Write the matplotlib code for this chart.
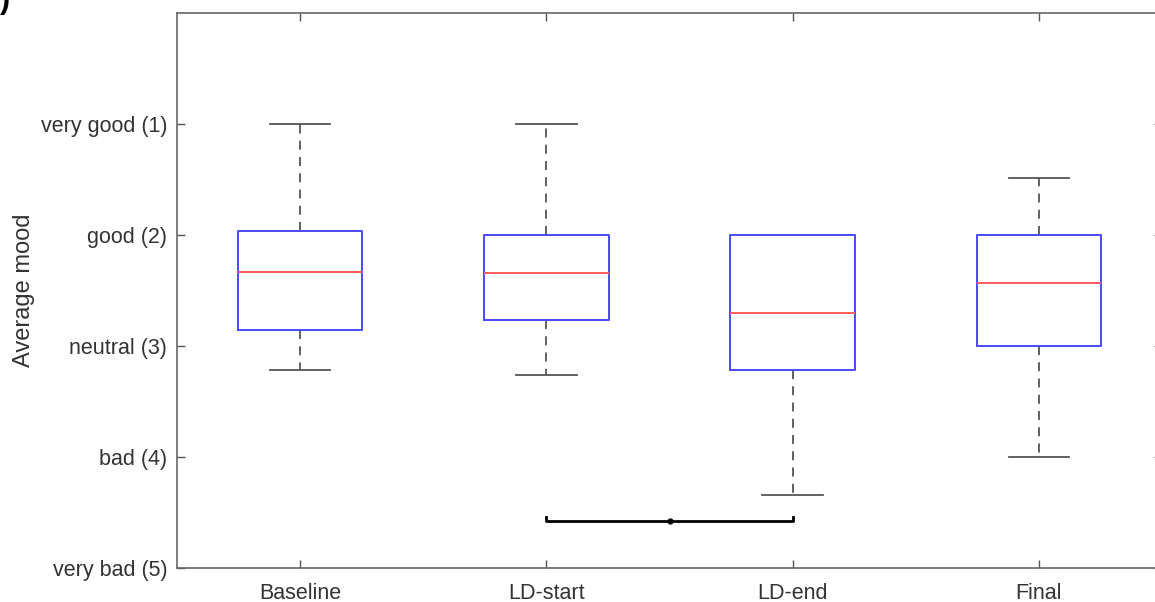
import matplotlib
matplotlib.use("Agg")
import matplotlib.pyplot as plt

categories = ["Baseline", "LD-start", "LD-end", "Final"]
whisk_hi = [1.0, 1.0, 2.0, 1.49]
q3 = [1.96, 2.0, 2.0, 2.0]
median = [2.33, 2.34, 2.70, 2.43]
q1 = [2.86, 2.77, 3.22, 3.0]
whisk_lo = [3.22, 3.26, 4.34, 4.0]
ytick_vals = [1, 2, 3, 4, 5]
ytick_labels = ["very good (1)", "good (2)", "neutral (3)", "bad (4)", "very bad (5)"]
sig_pair = (2, 3)
sig_level = 4.58

plt.rcParams['font.family'] = ['Liberation Sans', 'DejaVu Sans']

fig = plt.figure(figsize=(11.55, 6.02), dpi=100)
W, H = 1155, 602
left, right, top, bottom = 177, 1162, 13, 568
ax = fig.add_axes([left / W, 1 - bottom / H, (right - left) / W, (bottom - top) / H])

stats = []
for i, c in enumerate(categories):
    stats.append(dict(label=c, whislo=whisk_lo[i], q1=q1[i], med=median[i],
                      q3=q3[i], whishi=whisk_hi[i], fliers=[]))

res = ax.bxp(stats, positions=range(1, len(categories) + 1), widths=0.505, capwidths=0.245,
             showfliers=False,
             boxprops=dict(color='#4a4aff', linewidth=1.4, zorder=3),
             medianprops=dict(color='#ff5a5a', linewidth=1.4, zorder=3),
             whiskerprops=dict(color='#555555', linewidth=1.3, linestyle=(0, (5, 4))),
             capprops=dict(color='#555555', linewidth=1.3))
for i in range(len(categories)):
    if whisk_hi[i] == q3[i]:
        res['caps'][2 * i + 1].set_visible(False)
        res['whiskers'][2 * i + 1].set_visible(False)

ax.set_xlim(0.5, 4.5)
ax.set_ylim(5, 0)
ax.set_yticks(ytick_vals)
ax.set_yticklabels(ytick_labels)
ax.set_xticks(range(1, len(categories) + 1))
ax.set_xticklabels(categories)
ax.tick_params(direction='in', length=6, width=1.0, color='#555555',
               labelcolor='#333333', labelsize=15.5, top=True, right=True)
ax.tick_params(axis='y', pad=7)
ax.tick_params(axis='x', pad=10.5)
for s in ax.spines.values():
    s.set_color('#666666')
    s.set_linewidth(1.2)
ax.set_ylabel("Average mood", fontsize=17, color='#333333', labelpad=4)

# significance bracket
a, b = sig_pair
ax.plot([a, a, b, b], [sig_level - 0.04, sig_level, sig_level, sig_level - 0.04],
        color='black', linewidth=2)
ax.plot([(a + b) / 2], [sig_level], marker='o', color='black', markersize=3.5)

fig.text(0.0, 1.0, ")", fontsize=22, fontweight='bold', ha='left', va='center')

fig.savefig("out.png", dpi=100)
